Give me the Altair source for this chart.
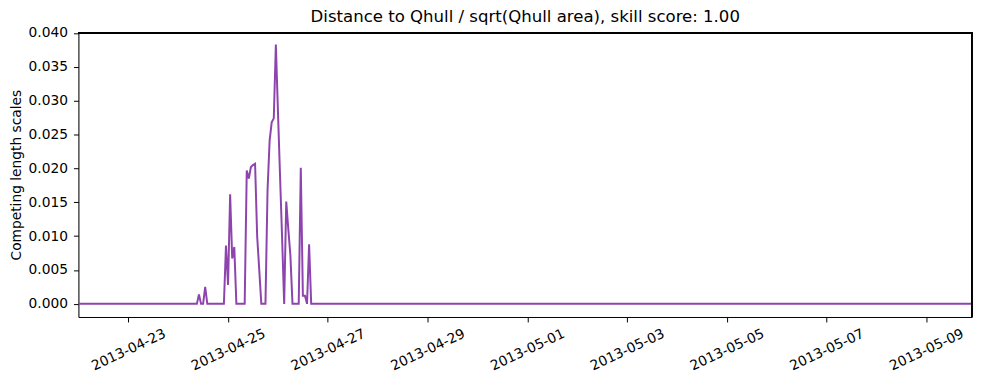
import altair as alt
import pandas as pd

# (hourly data; flat zero elsewhere)
times = [
    "2013-04-22T00:00:00",
    "2013-04-24T09:00:00", "2013-04-24T10:00:00", "2013-04-24T11:00:00",
    "2013-04-24T12:00:00", "2013-04-24T13:00:00", "2013-04-24T14:00:00",
    "2013-04-24T22:00:00", "2013-04-24T23:00:00", "2013-04-25T00:00:00",
    "2013-04-25T01:00:00", "2013-04-25T02:00:00", "2013-04-25T03:00:00",
    "2013-04-25T04:00:00",
    "2013-04-25T08:00:00", "2013-04-25T09:00:00", "2013-04-25T10:00:00",
    "2013-04-25T11:00:00", "2013-04-25T12:00:00", "2013-04-25T13:00:00",
    "2013-04-25T14:00:00", "2013-04-25T15:00:00", "2013-04-25T16:00:00",
    "2013-04-25T18:00:00", "2013-04-25T19:00:00", "2013-04-25T20:00:00",
    "2013-04-25T21:00:00", "2013-04-25T22:00:00", "2013-04-25T23:00:00",
    "2013-04-26T00:00:00", "2013-04-26T01:00:00", "2013-04-26T02:00:00",
    "2013-04-26T03:00:00", "2013-04-26T04:00:00", "2013-04-26T05:00:00",
    "2013-04-26T06:00:00", "2013-04-26T07:00:00",
    "2013-04-26T10:00:00", "2013-04-26T11:00:00", "2013-04-26T12:00:00",
    "2013-04-26T13:00:00", "2013-04-26T14:00:00", "2013-04-26T15:00:00",
    "2013-04-26T16:00:00",
    "2013-05-09T22:00:00",
]
values = [
    0.0,
    0.0, 0.0014, 0.0,
    0.0, 0.0025, 0.0,
    0.0, 0.0086, 0.0028,
    0.0162, 0.0067, 0.0084,
    0.0,
    0.0, 0.0197, 0.0185,
    0.0202, 0.0205, 0.0207,
    0.0100, 0.0051, 0.0,
    0.0, 0.0168, 0.0241,
    0.0268, 0.0274, 0.0383,
    0.0285, 0.0190, 0.0098,
    0.0, 0.0151, 0.0110,
    0.0071, 0.0,
    0.0, 0.0201, 0.0012,
    0.0012, 0.0, 0.0088,
    0.0,
    0.0,
]

tick_days = [(4, 23), (4, 25), (4, 27), (4, 29), (5, 1), (5, 3), (5, 5), (5, 7), (5, 9)]
y_ticks = [0.0, 0.005, 0.01, 0.015, 0.02, 0.025, 0.03, 0.035, 0.04]

df = pd.DataFrame({"time": times, "value": values})

FONT = "DejaVu Sans"
W, H = 901, 287
TICK_FS = 13.9

line = (
    alt.Chart(df)
    .mark_line(color="#8e44ad", strokeWidth=2, clip=True)
    .encode(
        x=alt.X(
            "time:T",
            title=None,
            scale=alt.Scale(
                domain=[
                    alt.DateTime(year=2013, month=4, date=22),
                    alt.DateTime(year=2013, month=5, date=9, hours=22),
                ]
            ),
            axis=alt.Axis(
                values=[alt.DateTime(year=2013, month=m, date=d) for m, d in tick_days],
                format="%Y-%m-%d",
                labelAngle=-25,
                labelAlign="center",
                labelBaseline="middle",
                labelPadding=28,
                tickSize=5,
                grid=False,
                domain=True,
                domainColor="black",
                labelFont=FONT,
                labelFontSize=TICK_FS,
                labelColor="black",
                tickColor="black",
            ),
        ),
        y=alt.Y(
            "value:Q",
            title="Competing length scales",
            scale=alt.Scale(domain=[-0.00194, 0.0401], nice=False, zero=False),
            axis=alt.Axis(
                values=y_ticks,
                format=".3f",
                tickSize=5,
                labelPadding=6,
                grid=False,
                domain=True,
                domainColor="black",
                labelFont=FONT,
                labelFontSize=TICK_FS,
                labelColor="black",
                tickColor="black",
                titleFont=FONT,
                titleFontSize=TICK_FS,
                titleFontWeight="normal",
                titleColor="black",
                titlePadding=5,
            ),
        ),
    )
)

# frame: top and right spines
top_rule = alt.Chart(df).mark_rule(color="black", strokeWidth=1).encode(
    x=alt.value(0), x2=alt.value(W), y=alt.value(0.5)
)
right_rule = alt.Chart(df).mark_rule(color="black", strokeWidth=1).encode(
    x=alt.value(W - 0.5), y=alt.value(0), y2=alt.value(H)
)

chart = (
    alt.layer(line, top_rule, right_rule)
    .properties(
        width=W,
        height=H,
        title=alt.TitleParams(
            "Distance to Qhull / sqrt(Qhull area), skill score: 1.00",
            font=FONT,
            fontSize=16.7,
            fontWeight="normal",
            color="black",
            anchor="middle",
            offset=0,
        ),
        autosize=alt.AutoSizeParams(type="none"),
        padding={"left": 71, "top": 23, "right": 9, "bottom": 64},
    )
    .configure_view(stroke=None)
    .configure(background="white")
)

chart.save("out.html", embed_options={"renderer": "svg", "actions": False})
